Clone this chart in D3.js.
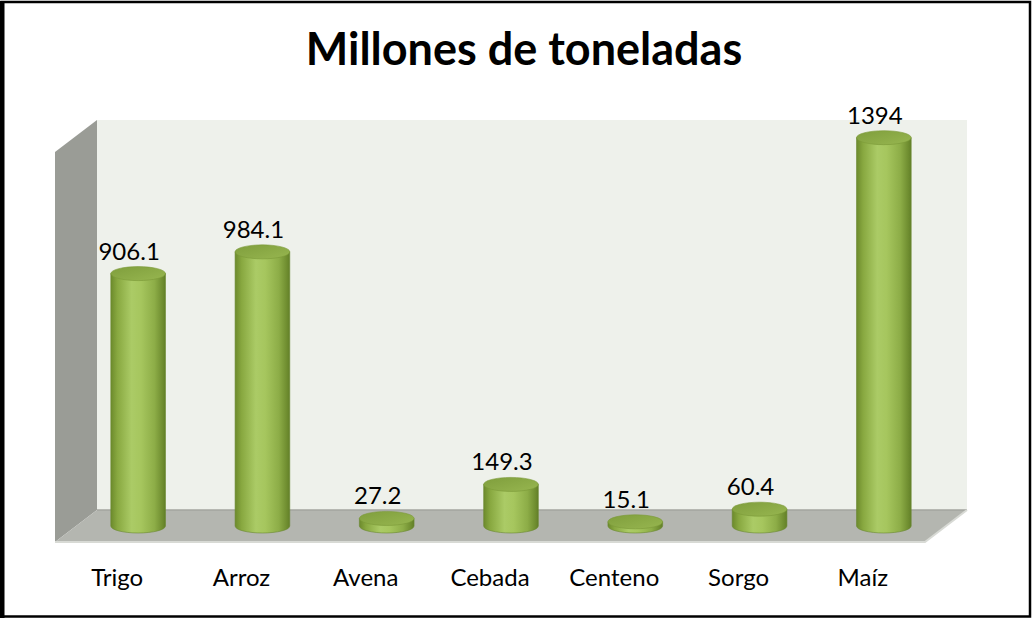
<!DOCTYPE html>
<html>
<head>
<meta charset="utf-8">
<script src="https://cdn.jsdelivr.net/npm/d3@7/dist/d3.min.js"></script>
<style>
  html, body { margin: 0; padding: 0; background: #ffffff; }
  svg { display: block; }
</style>
</head>
<body>
<svg id="chart" width="1033" height="620"></svg>
<script>
// Producción mundial de cereales (millones de toneladas)
const categories = ["Trigo", "Arroz", "Avena", "Cebada", "Centeno", "Sorgo", "Maíz"];
const values = [906.1, 984.1, 27.2, 149.3, 15.1, 60.4, 1394];
const valueLabels = ["906.1", "984.1", "27.2", "149.3", "15.1", "60.4", "1394"];
const title = "Millones de toneladas";

const svg = d3.select("#chart");

// back plane of the 3D box
const back = { left: 97, right: 967, top: 120, bottom: 510 };
// depth offset from back plane to front plane
const depth = { dx: -42, dy: 32 };

const x = d3.scaleBand().domain(categories).range([back.left, back.right]).paddingInner(0).paddingOuter(0);
const y = d3.scaleLinear().domain([0, 1400]).range([back.bottom, back.top]);

const defs = svg.append("defs");
const grad = defs.append("linearGradient").attr("id", "cylSide").attr("x1", "0%").attr("x2", "100%");
[
  [0, "#6c8a2c"], [0.12, "#88a840"], [0.38, "#abcb66"], [0.55, "#a6c65e"],
  [0.8, "#8dad47"], [0.95, "#6e8c2f"], [1, "#627f28"]
].forEach(([o, c]) => grad.append("stop").attr("offset", o).attr("stop-color", c));
const gradTop = defs.append("linearGradient").attr("id", "cylTop").attr("x1", "0%").attr("x2", "100%").attr("y1", "0%").attr("y2", "100%");
[[0, "#7f9e3c"], [1, "#97b650"]].forEach(([o, c]) => gradTop.append("stop").attr("offset", o).attr("stop-color", c));

// outer frame
svg.append("rect").attr("x", 1.5).attr("y", 2).attr("width", 1028.5).attr("height", 614.5)
  .attr("fill", "#ffffff").attr("stroke", "#000000").attr("stroke-width", 2.5);
svg.append("rect").attr("x", 0).attr("y", 1).attr("width", 4.5).attr("height", 617).attr("fill", "#000000");

// title
svg.append("text").attr("x", 524).attr("y", 65).attr("text-anchor", "middle")
  .attr("font-family", "Lato, 'Open Sans', sans-serif").attr("font-weight", 700)
  .attr("font-size", 45).attr("fill", "#000000").text(title);

// back wall
svg.append("rect").attr("x", back.left).attr("y", back.top)
  .attr("width", back.right - back.left).attr("height", back.bottom - back.top)
  .attr("fill", "#eef1eb");

// left side wall
const lw = [
  [back.left, back.top], [back.left, back.bottom],
  [back.left + depth.dx, back.bottom + depth.dy], [back.left + depth.dx, back.top + depth.dy]
];
svg.append("path").attr("d", d3.line()(lw) + "Z").attr("fill", "#9a9c96");

// floor
const fl = [
  [back.left, back.bottom], [back.right, back.bottom],
  [back.right + depth.dx, back.bottom + depth.dy], [back.left + depth.dx, back.bottom + depth.dy]
];
svg.append("path").attr("d", d3.line()(fl) + "Z").attr("fill", "#b4b6b0");
svg.append("line").attr("x1", back.left).attr("x2", back.right).attr("y1", back.bottom).attr("y2", back.bottom)
  .attr("stroke", "#a3a59f").attr("stroke-width", 1.5);
svg.append("path")
  .attr("d", d3.line()([[back.left + depth.dx, back.bottom + depth.dy], [back.right + depth.dx, back.bottom + depth.dy], [back.right, back.bottom]]))
  .attr("fill", "none").attr("stroke", "#d8dad5").attr("stroke-width", 2);

// cylinders, set at mid depth
const mid = { dx: depth.dx / 2, dy: depth.dy / 2 };
const rx = x.bandwidth() * 0.22, ry = 7;
const data = categories.map((c, i) => ({ c, v: values[i], label: valueLabels[i] }));

const g = svg.append("g");
data.forEach(d => {
  const cx = x(d.c) + x.bandwidth() / 2 + mid.dx;
  const yb = y(0) + mid.dy;
  const yt = y(d.v) + mid.dy;
  const side = `M${cx - rx},${yt} L${cx - rx},${yb} A${rx},${ry} 0 0 0 ${cx + rx},${yb} L${cx + rx},${yt} Z`;
  g.append("path").attr("d", side).attr("fill", "url(#cylSide)")
    .attr("stroke", "#6a8830").attr("stroke-width", 0.6);
  g.append("ellipse").attr("cx", cx).attr("cy", yt).attr("rx", rx).attr("ry", ry)
    .attr("fill", "url(#cylTop)").attr("stroke", "#7a9838").attr("stroke-width", 0.6);
  // value label, anchored slightly toward the front plane
  g.append("text").attr("x", cx - 9).attr("y", yt - 14).attr("text-anchor", "middle")
    .attr("font-family", "Lato, 'Open Sans', sans-serif").attr("font-size", 24)
    .attr("fill", "#000000").text(d.label);
});

// category axis along the front edge
const xFront = x.copy().range([back.left + depth.dx, back.right + depth.dx]);
const axis = svg.append("g").attr("transform", `translate(0,${back.bottom + depth.dy})`)
  .call(d3.axisBottom(xFront).tickSize(0).tickPadding(27));
axis.select(".domain").remove();
axis.selectAll("text").attr("font-family", "Lato, 'Open Sans', sans-serif")
  .attr("font-size", 24).attr("fill", "#000000");
</script>
</body>
</html>
